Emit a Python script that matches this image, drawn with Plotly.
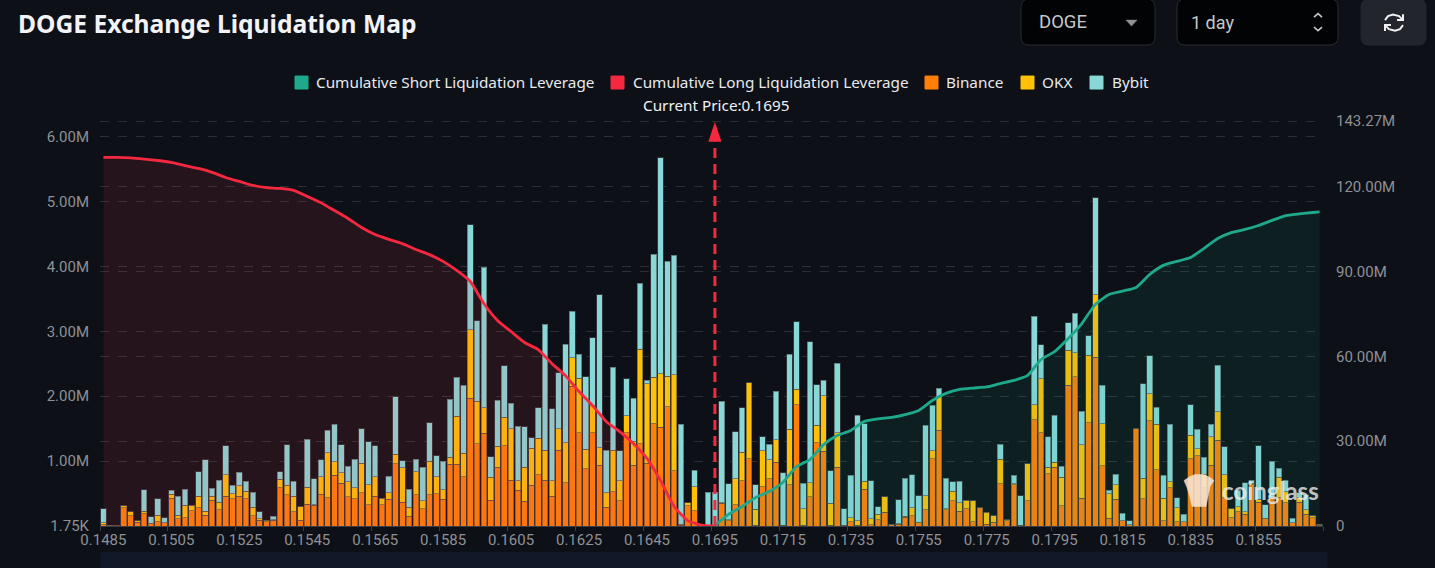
import plotly.graph_objects as go

# price levels on the x axis (the source chart jumps at the current price)
prices = [f"{0.1485 + 0.0002 * i:.4f}" for i in range(90)] + [f"{0.1695 + 0.0002 * i:.4f}" for i in range(90)]

# liquidation leverage per price level, millions
binance = [
    0.02, 0.005, 0.015, 0.28, 0.16, 0.06, 0.19, 0.04, 0.07, 0.05,
    0.43, 0.11, 0.13, 0.24, 0.28, 0.17, 0.40, 0.25, 0.46, 0.42,
    0.46, 0.42, 0.16, 0.09, 0.07, 0.09, 0.59, 0.48, 0.22, 0.09,
    0.34, 0.32, 0.49, 0.44, 0.78, 0.66, 0.45, 0.42, 0.51, 0.33,
    0.46, 0.33, 0.41, 0.96, 0.37, 0.15, 0.48, 0.27, 0.48, 0.50,
    0.41, 0.95, 0.95, 0.76, 1.97, 1.27, 1.43, 0.40, 0.91, 1.24,
    0.71, 0.55, 0.38, 0.63, 0.79, 0.71, 0.46, 1.17, 0.67, 2.15,
    1.44, 0.88, 1.44, 0.94, 0.29, 0.53, 0.39, 1.44, 0.94, 1.27,
    0.97, 1.58, 1.52, 1.84, 0.85, 0.01, 0.31, 0.24, 0.00, 0.00,
    0.00, 0.35, 0.08, 0.33, 0.70, 1.04, 0.01, 0.61, 0.73, 0.98,
    0.01, 0.64, 1.87, 0.01, 0.45, 1.28, 1.15, 0.01, 0.91, 0.01,
    0.07, 0.01, 0.57, 0.02, 0.10, 0.21, 0.03, 0.03, 0.14, 0.16,
    0.05, 0.25, 1.04, 1.48, 0.25, 0.39, 0.23, 0.27, 0.07, 0.28,
    0.03, 0.06, 0.65, 0.08, 0.64, 0.01, 0.39, 1.64, 1.44, 0.81,
    0.91, 0.31, 2.17, 2.30, 0.43, 1.59, 2.60, 0.93, 0.12, 0.41,
    0.08, 0.02, 1.50, 0.42, 1.62, 0.87, 0.08, 0.59, 0.07, 0.07,
    1.04, 1.08, 0.59, 0.94, 1.32, 0.44, 0.13, 0.22, 0.18, 0.64,
    0.37, 0.11, 0.44, 0.44, 0.36, 0.05, 0.37, 0.18, 0.13, 0.01,
]
okx = [
    0.03, 0.005, 0.00, 0.03, 0.06, 0.02, 0.04, 0.005, 0.10, 0.00,
    0.06, 0.06, 0.19, 0.08, 0.18, 0.06, 0.06, 0.12, 0.33, 0.08,
    0.16, 0.12, 0.13, 0.02, 0.02, 0.01, 0.13, 0.15, 0.24, 0.21,
    0.26, 0.01, 0.27, 0.69, 0.21, 0.16, 0.23, 0.17, 0.46, 0.31,
    0.30, 0.10, 0.10, 0.15, 0.53, 0.14, 0.36, 0.12, 0.52, 0.26,
    0.15, 0.11, 0.74, 0.36, 1.05, 0.65, 0.39, 0.35, 0.32, 0.44,
    0.79, 0.15, 0.53, 0.57, 0.56, 0.46, 0.24, 0.33, 0.61, 0.44,
    0.84, 0.30, 0.41, 0.27, 0.22, 0.64, 0.31, 0.26, 0.36, 1.45,
    1.22, 0.71, 0.83, 0.47, 1.48, 0.02, 0.05, 0.37, 0.00, 0.005,
    0.00, 0.01, 0.02, 0.40, 0.44, 1.17, 0.25, 0.55, 0.29, 0.35,
    0.005, 0.85, 0.24, 0.26, 0.22, 0.27, 0.86, 0.34, 0.53, 0.00,
    0.06, 0.07, 0.12, 0.09, 0.08, 0.24, 0.00, 0.005, 0.01, 0.12,
    0.01, 0.22, 0.12, 0.51, 0.02, 0.15, 0.13, 0.13, 0.32, 0.00,
    0.18, 0.10, 0.38, 0.02, 0.01, 0.00, 0.57, 0.23, 0.83, 0.10,
    0.07, 0.44, 0.54, 0.37, 0.82, 1.04, 0.96, 0.65, 0.38, 0.23,
    0.00, 0.00, 0.00, 0.32, 0.42, 0.70, 0.35, 0.09, 0.21, 0.00,
    0.36, 0.11, 0.21, 0.44, 0.44, 0.35, 0.14, 0.08, 0.04, 0.02,
    0.04, 0.01, 0.00, 0.31, 0.17, 0.00, 0.07, 0.07, 0.03, 0.02,
]
bybit = [
    0.22, 0.00, 0.00, 0.00, 0.00, 0.00, 0.33, 0.10, 0.25, 0.08,
    0.06, 0.29, 0.25, 0.00, 0.38, 0.79, 0.12, 0.34, 0.45, 0.13,
    0.21, 0.15, 0.23, 0.11, 0.00, 0.05, 0.12, 0.62, 0.23, 0.00,
    0.74, 0.40, 0.26, 0.35, 0.58, 0.43, 0.24, 0.44, 0.53, 0.66,
    0.48, 0.00, 0.26, 0.88, 0.11, 0.28, 0.19, 0.52, 0.59, 0.32,
    0.44, 0.89, 0.60, 1.05, 1.62, 1.24, 2.17, 0.32, 0.71, 0.79,
    0.39, 0.84, 0.62, 0.16, 0.47, 1.94, 1.11, 0.86, 1.52, 0.72,
    0.37, 1.12, 1.05, 2.35, 0.66, 1.28, 0.46, 0.57, 0.67, 1.02,
    0.06, 1.90, 3.32, 1.77, 1.84, 1.54, 0.00, 0.25, 0.00, 0.52,
    0.52, 1.56, 0.55, 0.72, 0.68, 0.00, 0.38, 0.22, 0.24, 0.75,
    0.81, 1.16, 1.04, 0.39, 2.17, 0.63, 0.24, 0.50, 1.07, 0.26,
    0.65, 1.63, 0.89, 0.59, 0.12, 0.00, 0.00, 0.37, 0.59, 0.51,
    0.41, 1.08, 0.70, 0.13, 0.47, 0.14, 0.33, 0.00, 0.00, 0.00,
    0.00, 0.00, 0.23, 0.00, 0.13, 0.46, 0.00, 1.36, 0.52, 0.47,
    0.73, 0.17, 0.42, 0.61, 0.52, 0.30, 1.50, 0.59, 0.05, 0.16,
    0.12, 0.06, 0.00, 1.45, 0.58, 0.26, 0.35, 0.89, 0.16, 0.11,
    0.47, 0.30, 0.26, 0.19, 0.72, 0.43, 0.00, 0.25, 0.45, 0.05,
    0.83, 0.21, 0.56, 0.14, 0.18, 0.07, 0.07, 0.23, 0.00, 0.00,
]

# cumulative lines, millions, read at every second price level
long_cum = [
    130.4, 130.4, 130.2, 129.8, 129.3, 128.6, 127.5, 126.5, 125.1, 123.3,
    121.9, 120.5, 119.7, 119.4, 118.7, 116.6, 114.4, 111.6, 108.8, 105.6,
    103.1, 101.4, 99.9, 97.8, 96.0, 93.6, 90.4, 86.5, 78.7, 72.7,
    68.8, 64.9, 62.4, 57.5, 53.2, 47.6, 42.6, 37.0, 33.4, 29.2,
    23.9, 16.1, 6.9, 1.9, 0.35, 0.0,
]
short_cum = [
    0.2, 4.1, 6.9, 10.1, 12.2, 15.4, 21.0, 23.5, 28.8, 32.0,
    33.8, 37.0, 37.9, 38.4, 39.4, 40.9, 44.4, 46.9, 48.3, 48.8,
    49.2, 50.4, 51.5, 53.2, 58.9, 61.7, 66.3, 71.6, 78.4, 81.9,
    83.1, 84.4, 89.0, 92.2, 93.6, 95.0, 98.2, 101.7, 103.8, 104.9,
    106.3, 108.1, 109.8, 110.4, 110.9, 111.1,
]
short_x = prices[90:180:2] + [prices[179]]

left_ticks = [0.00175, 1, 2, 3, 4, 5, 6]
left_labels = ["1.75K", "1.00M", "2.00M", "3.00M", "4.00M", "5.00M", "6.00M"]
right_ticks = [0, 30, 60, 90, 120, 143.27]
right_labels = ["0", "30.00M", "60.00M", "90.00M", "120.00M", "143.27M"]

current_price = prices[90]

BG = "#0d1017"
RED = "#f5283f"
TEAL = "#1fa98c"
ORANGE = "#ff7f07"
YELLOW = "#ffc107"
AQUA = "#88d8d8"
GRID = "rgba(255,255,255,0.13)"
TICK = "#8e9196"
LEGEND_FONT = "Noto Sans"
TICK_FONT = "Roboto"

# plot area in page pixels, 2px taller than the axis top so its gridline is kept
PLOT_L, PLOT_R, PLOT_T, PLOT_B = 100, 1323, 119, 526.5

fig = go.Figure()

edge = dict(color="rgba(75,75,75,0.6)", width=1)
fig.add_bar(x=prices, y=binance, name="Binance", marker=dict(color=ORANGE, line=edge))
fig.add_bar(x=prices, y=okx, name="OKX", marker=dict(color=YELLOW, line=edge))
fig.add_bar(x=prices, y=bybit, name="Bybit", marker=dict(color=AQUA, line=edge))

fig.add_scatter(
    x=prices[0:91:2], y=long_cum, yaxis="y2", mode="lines", name="Cumulative Long Liquidation Leverage",
    line=dict(color=RED, width=2.8, shape="spline", smoothing=0.5),
    fill="tozeroy", fillcolor="rgba(240,52,70,0.11)",
)
fig.add_scatter(
    x=short_x, y=short_cum, yaxis="y2", mode="lines", name="Cumulative Short Liquidation Leverage",
    line=dict(color=TEAL, width=2.8, shape="spline", smoothing=0.5),
    fill="tozeroy", fillcolor="rgba(31,169,140,0.10)",
)
# arrow head of the current price marker
fig.add_scatter(
    x=[current_price], y=[143.0], yaxis="y2", mode="markers", cliponaxis=False, showlegend=False,
    marker=dict(symbol="arrow", size=21, color=RED),
)

fig.update_layout(
    width=1435, height=568,
    margin=dict(l=PLOT_L, r=1435 - PLOT_R, t=PLOT_T, b=568 - PLOT_B),
    paper_bgcolor=BG, plot_bgcolor=BG,
    barmode="stack", bargap=0.17,
    showlegend=False,
    xaxis=dict(
        type="category", categoryorder="array", categoryarray=prices,
        range=[-0.5, 179.5], tickmode="linear", tick0=0, dtick=10, tickson="boundaries",
        ticks="outside", ticklen=4, tickcolor="#3a3d44", showgrid=False,
        showline=True, linecolor="#3a3d44", tickangle=0,
        tickfont=dict(family=TICK_FONT, size=15, color=TICK),
    ),
    yaxis=dict(
        range=[0.00175, 6.269], tickmode="array", tickvals=left_ticks, ticktext=left_labels,
        showgrid=True, gridcolor=GRID, griddash="dash", zeroline=False, ticklabelstandoff=10,
        tickfont=dict(family=TICK_FONT, size=15, color=TICK),
    ),
    yaxis2=dict(
        overlaying="y", side="right", range=[0, 143.98], tickmode="array",
        tickvals=right_ticks, ticktext=right_labels,
        showgrid=True, gridcolor=GRID, griddash="dash", zeroline=False, ticklabelstandoff=12,
        tickfont=dict(family=TICK_FONT, size=15, color=TICK),
    ),
)


def px_x(v):
    return (v - PLOT_L) / (PLOT_R - PLOT_L)


def px_y(v):
    return (PLOT_B - v) / (PLOT_B - PLOT_T)


def page_text(x, y, text, size, color, family=LEGEND_FONT, anchor="left", bold=False):
    fig.add_annotation(
        xref="paper", yref="paper", x=px_x(x), y=px_y(y), xanchor=anchor, yanchor="middle",
        showarrow=False, text=f"<b>{text}</b>" if bold else text, borderpad=0,
        font=dict(family=family, size=size, color=color),
    )


def page_shape(x0, y0, x1, y1, fill, line=None, radius=0, layer="below"):
    # rounded rectangle in page pixels
    x0p, x1p, y0p, y1p = px_x(x0), px_x(x1), px_y(y0), px_y(y1)
    rx, ry = radius / (PLOT_R - PLOT_L), radius / (PLOT_B - PLOT_T)
    path = (
        f"M{x0p + rx},{y0p} L{x1p - rx},{y0p} Q{x1p},{y0p} {x1p},{y0p - ry} "
        f"L{x1p},{y1p + ry} Q{x1p},{y1p} {x1p - rx},{y1p} L{x0p + rx},{y1p} "
        f"Q{x0p},{y1p} {x0p},{y1p + ry} L{x0p},{y0p - ry} Q{x0p},{y0p} {x0p + rx},{y0p} Z"
    )
    fig.add_shape(
        type="path", path=path, xref="paper", yref="paper", layer=layer,
        fillcolor=fill, line=dict(color=line or fill, width=1),
    )


def page_path(points, color, width=1.6, fill=None, closed=False):
    d = "M" + " L".join(f"{px_x(a)},{px_y(b)}" for a, b in points) + (" Z" if closed else "")
    fig.add_shape(
        type="path", path=d, xref="paper", yref="paper", layer="above",
        fillcolor=fill, line=dict(color=color, width=width),
    )


# header
page_text(16.5, 23.5, "DOGE Exchange Liquidation Map", 24.6, "#f2f3f7", bold=True)

page_shape(1021, -1, 1155, 45, "#020305", "#2a2c31", radius=8)
page_text(1038, 22, "DOGE", 18.5, "#c4c8ce", family="Roboto")
page_path([(1126, 20), (1137, 20), (1131.5, 26)], "#8f9296", width=0.5, fill="#8f9296", closed=True)

page_shape(1177, -1, 1338, 45, "#020305", "#2a2c31", radius=8)
page_text(1190, 22, "1 day", 18, "#c4c8ce", family="Roboto")
page_path([(1314, 17), (1318, 13.5), (1322, 17)], "#c4c8ce")
page_path([(1314, 27), (1318, 30.5), (1322, 27)], "#c4c8ce")

page_shape(1361, -1, 1426, 45, "#22252c", radius=8)
# refresh icon
page_path([(1385, 20), (1388, 16), (1393, 14.5), (1399, 16), (1402, 19)], "#f0f0f0", width=2)
page_path([(1403, 14), (1403, 20), (1397, 20)], "#f0f0f0", width=2)
page_path([(1403, 25), (1400, 29), (1395, 30.5), (1389, 29), (1386, 26)], "#f0f0f0", width=2)
page_path([(1385, 31), (1385, 25), (1391, 25)], "#f0f0f0", width=2)

# legend
legend_items = [
    (295, 315, "Cumulative Short Liquidation Leverage", TEAL),
    (611, 632, "Cumulative Long Liquidation Leverage", RED),
    (925, 945, "Binance", ORANGE),
    (1021, 1041, "OKX", YELLOW),
    (1090, 1111, "Bybit", AQUA),
]
for box_x, text_x, label, color in legend_items:
    page_shape(box_x, 76, box_x + 13, 89, color, layer="above")
    page_text(text_x, 82, label, 15.3, "#e8eaee")

page_text(716, 104.5, "Current Price:0.1695", 15.3, "#f0f1f4", anchor="center")

# current price line, x is the category position on this axis
fig.add_shape(
    type="line", xref="x", yref="y2", x0=90, x1=90, y0=0, y1=136,
    line=dict(color=RED, width=3, dash="10px,6px"), layer="above",
)

# footer strip
page_shape(101, 553, 1327, 569, "#111827")

# watermark
page_path(
    [(1184, 481), (1190, 477), (1195, 475), (1204, 475), (1210, 478), (1214, 481),
     (1210, 487), (1208, 497), (1206, 507), (1192, 507), (1190, 498), (1187, 488)],
    "rgba(250,232,215,0.85)", width=0.5, fill="rgba(250,232,215,0.85)", closed=True,
)
page_text(1270, 491, "coinglass", 24, "rgba(238,238,238,0.8)", family="Lato", anchor="center", bold=True)

fig.write_html(
    "out.html",
    config={"displayModeBar": False},
    post_script="document.body.style.margin='0';document.body.style.background='#0d1017';",
)
